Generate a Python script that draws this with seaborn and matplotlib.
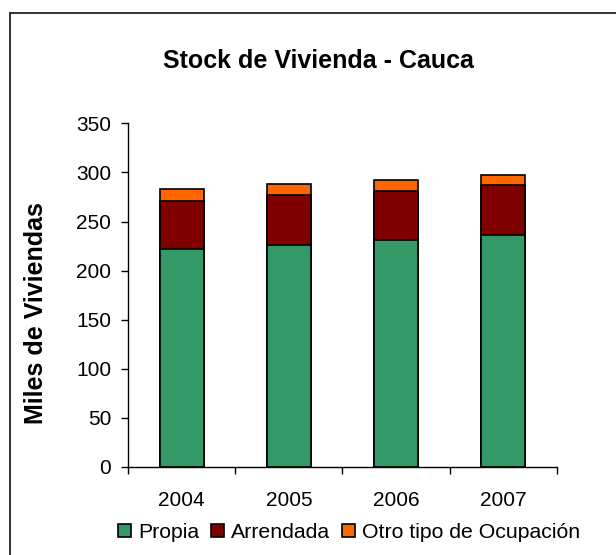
import matplotlib
matplotlib.use("Agg")
import matplotlib.pyplot as plt
import seaborn as sns
import pandas as pd
from matplotlib.patches import Patch
from matplotlib.lines import Line2D

# Data (miles de viviendas)
years = ["2004", "2005", "2006", "2007"]
propia = [222, 226, 231, 236]
arrendada = [49, 51, 50, 51]
otro = [12, 11, 11, 10]

colors = {"Propia": "#339966", "Arrendada": "#800000", "Otro tipo de Ocupación": "#FF6600"}

sns.set_theme(style="white")
plt.rcParams["font.family"] = ["Liberation Sans", "DejaVu Sans"]
plt.rcParams["text.color"] = "black"
plt.rcParams["axes.labelcolor"] = "black"
plt.rcParams["xtick.color"] = "black"
plt.rcParams["ytick.color"] = "black"

df = pd.DataFrame({"year": years, "propia": propia, "arrendada": arrendada, "otro": otro})
df["top_red"] = df["propia"] + df["arrendada"]
df["total"] = df["top_red"] + df["otro"]

fig = plt.figure(figsize=(6.16, 5.55), dpi=100)
ax = fig.add_axes([0.2078, 0.1586, 0.6964, 0.6192])

# stacked bars drawn as cumulative layers
for col, name in [("total", "Otro tipo de Ocupación"), ("top_red", "Arrendada"), ("propia", "Propia")]:
    sns.barplot(data=df, x="year", y=col, order=years, color=colors[name], saturation=1,
                width=0.41, edgecolor="black", linewidth=1.2, ax=ax)

ax.set_ylim(0, 350)
ax.set_xlim(-0.5, 3.5)
ax.set_yticks(range(0, 351, 50))
ax.set_xlabel("")
ax.set_ylabel("Miles de Viviendas", fontsize=18, fontweight="bold")
ax.yaxis.set_label_coords(-0.186, 0.449)

for s in ["top", "right"]:
    ax.spines[s].set_visible(False)
for s in ["left", "bottom"]:
    ax.spines[s].set_color("black")
    ax.spines[s].set_linewidth(1.0)

ax.tick_params(axis="y", which="major", left=True, length=5, width=1, color="black",
               direction="out", labelsize=15, pad=7)
ax.tick_params(axis="x", which="major", length=0, labelsize=15, pad=17)
ax.set_xticks([-0.5, 0.5, 1.5, 2.5, 3.5], minor=True)
ax.tick_params(axis="x", which="minor", bottom=True, length=5, width=1, color="black", direction="out")

fig.text(0.517, 0.89, "Stock de Vivienda - Cauca", ha="center", va="center",
         fontsize=18, fontweight="bold")

handles = [Patch(facecolor=colors[n], edgecolor="black", linewidth=1.2, label=n)
           for n in ["Propia", "Arrendada", "Otro tipo de Ocupación"]]
fig.legend(handles=handles, loc="center", bbox_to_anchor=(0.567, 0.041), ncol=3,
           frameon=False, fontsize=15.3, handlelength=0.6, handleheight=0.6,
           handletextpad=0.35, columnspacing=0.55, borderaxespad=0)

# outer frame of the slide box (extends past right and bottom)
fig.add_artist(Line2D([0.0162, 1.0], [0.9766, 0.9766], transform=fig.transFigure,
                      color="#222222", linewidth=1.3))
fig.add_artist(Line2D([0.0162, 0.0162], [0.0, 0.9766], transform=fig.transFigure,
                      color="#222222", linewidth=1.3))

fig.savefig("out.png", dpi=100)
